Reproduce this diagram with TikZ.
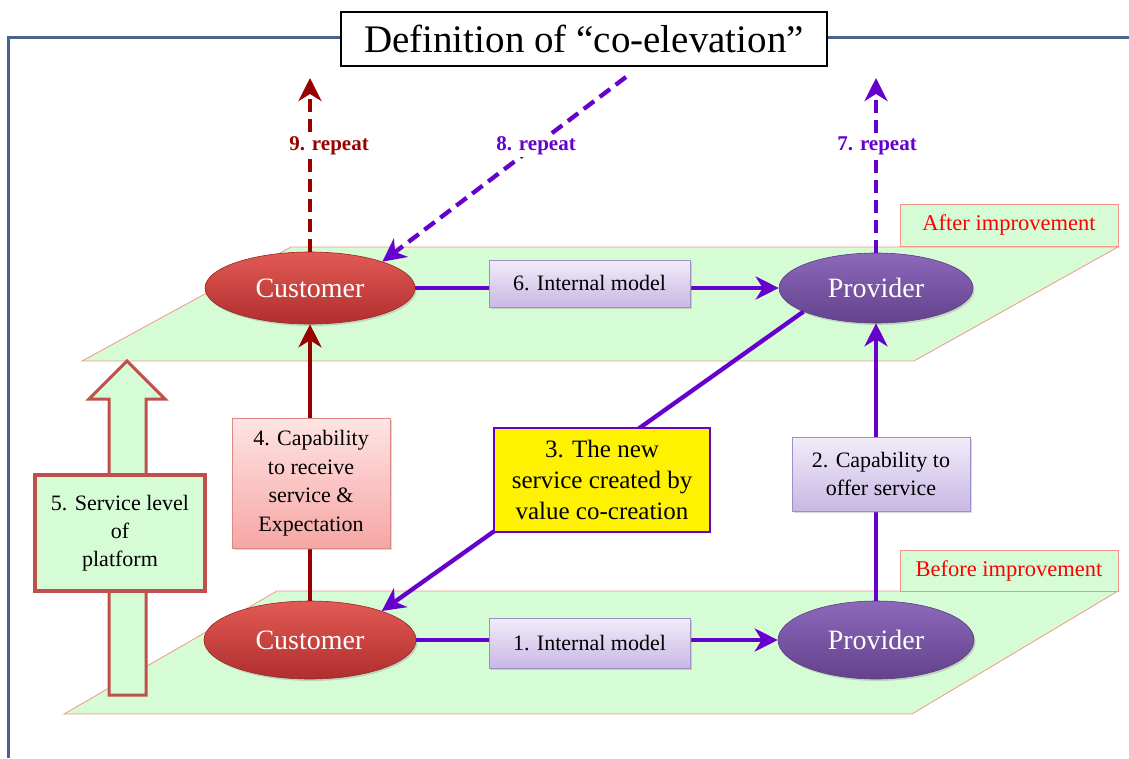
\documentclass[tikz,border=0pt]{standalone}
\usepackage{fontspec}
\setmainfont{Liberation Serif}
\usetikzlibrary{arrows.meta,shapes.geometric,shadows,calc}

\definecolor{frameblue}{RGB}{72,100,140}
\definecolor{vio}{RGB}{102,0,204}
\definecolor{darkred}{RGB}{153,0,0}
\definecolor{planegreen}{RGB}{214,252,214}
\definecolor{planeedge}{RGB}{242,150,140}
\definecolor{custtop}{RGB}{226,90,84}
\definecolor{custbot}{RGB}{176,46,46}
\definecolor{custedge}{RGB}{150,40,40}
\definecolor{provtop}{RGB}{140,104,186}
\definecolor{provbot}{RGB}{100,66,140}
\definecolor{provedge}{RGB}{90,60,130}
\definecolor{lavtop}{RGB}{242,236,250}
\definecolor{lavbot}{RGB}{200,184,228}
\definecolor{lavedge}{RGB}{160,142,198}
\definecolor{pinktop}{RGB}{254,228,228}
\definecolor{pinkbot}{RGB}{246,166,164}
\definecolor{pinkedge}{RGB}{222,136,134}
\definecolor{platred}{RGB}{192,80,77}

\tikzset{
  plane/.style={fill=planegreen, draw=planeedge, line width=0.8pt},
  stagetag/.style={plane, minimum width=218pt, minimum height=42pt, inner sep=0pt,
    text=red, font=\fontsize{22.5}{26}\selectfont},
  softshadow/.style={drop shadow={shadow xshift=1.5pt, shadow yshift=-2pt, opacity=0.3}},
  custnode/.style={ellipse, draw=custedge, line width=0.6pt, top color=custtop,
    bottom color=custbot, text=white, inner sep=0pt, softshadow,
    font=\fontsize{28}{32}\selectfont},
  provnode/.style={ellipse, draw=provedge, line width=0.6pt, top color=provtop,
    bottom color=provbot, text=white, inner sep=0pt, softshadow,
    font=\fontsize{28}{32}\selectfont},
  lavbox/.style={rectangle, draw=lavedge, line width=1pt, top color=lavtop,
    bottom color=lavbot, align=center, inner sep=0pt, softshadow,
    font=\fontsize{22}{28}\selectfont},
  pinkbox/.style={rectangle, draw=pinkedge, line width=1pt, top color=pinktop,
    bottom color=pinkbot, align=center, inner sep=0pt, softshadow,
    font=\fontsize{22}{28.5}\selectfont},
  yellowbox/.style={rectangle, draw=vio, line width=2.2pt, fill=yellow, align=center,
    inner sep=0pt, font=\fontsize{25}{31}\selectfont},
  platbox/.style={rectangle, draw=platred, line width=3.2pt, fill=planegreen,
    align=center, inner sep=0pt, softshadow, font=\fontsize{22}{28}\selectfont},
  headtip/.style={-{Stealth[length=23pt,width=23pt,inset=7pt]}},
  vioarrow/.style={draw=vio, line width=4.3pt, headtip},
  redarrow/.style={draw=darkred, line width=4.3pt, headtip},
  dashvio/.style={draw=vio, line width=4.3pt, dash pattern=on 13pt off 7pt, headtip},
  dashred/.style={draw=darkred, line width=4.3pt, dash pattern=on 13pt off 7pt, headtip},
  replabel/.style={fill=white, inner sep=2pt, font=\bfseries\fontsize{21}{24}\selectfont},
}

\begin{document}
\begin{tikzpicture}[x=1pt,y=-1pt]
\useasboundingbox (0,0) rectangle (1129,758);

% outer frame
\draw[frameblue, line width=3pt] (1129,37) -- (8,37) -- (8,758);

% the two planes
\path[plane] (82,361) -- (291,247) -- (1118,247) -- (914,361) -- cycle;
\path[plane] (64,714) -- (277,591) -- (1118,591) -- (912,714) -- cycle;
\node[stagetag] (after) at (1009,225) {After improvement};
\node[stagetag, minimum height=41pt] (before) at (1009,570.5) {Before improvement};

% platform arrow
\draw[draw=platred, fill=planegreen, line width=3pt, line join=miter]
  (109,695) -- (109,399) -- (89,399) -- (127,361) -- (165,399) -- (146,399) -- (146,695) -- cycle;

% actors
\node[custnode, minimum width=210pt, minimum height=72pt] (CustT) at (310,288) {Customer};
\node[provnode, minimum width=194pt, minimum height=70pt] (ProvT) at (876,288) {Provider};
\node[custnode, minimum width=212pt, minimum height=78pt] (CustB) at (310,640) {Customer};
\node[provnode, minimum width=196pt, minimum height=78pt] (ProvB) at (876,640) {Provider};

% connectors
\draw[vioarrow] (CustB) -- (ProvB);
\draw[vioarrow] (CustT) -- (ProvT);
\draw[vioarrow] (ProvB) -- (ProvT);
\draw[redarrow] (CustB) -- (CustT);
\draw[vioarrow] (ProvT.198) -- (CustB.22);

% repeat arrows
\coordinate (r9) at (310,78);
\coordinate (r7) at (876,78);
\coordinate (r8) at (626,77);
\draw[dashred] (CustT) -- (r9);
\draw[dashvio] (ProvT) -- (r7);
\draw[dashvio] (r8) -- (CustT.20);
\node[replabel, text=darkred] (l9) at (329,146) {9. repeat};
\node[replabel, text=vio] (l7) at (877,146) {7. repeat};
\node[replabel, text=vio] (l8) at (536,146) {8. repeat};

% step boxes
\node[lavbox, minimum width=201pt, minimum height=47pt] (b6) at (589.5,283.5) {6. Internal model};
\node[lavbox, minimum width=201pt, minimum height=50pt] (b1) at (589.5,643) {1. Internal model};
\node[lavbox, minimum width=178pt, minimum height=74pt] (b2) at (881,474) {2. Capability to\\offer service};
\node[pinkbox, minimum width=158pt, minimum height=130pt] (b4) at (311,483) {4. Capability\\to receive\\service \&\\Expectation};
\node[yellowbox, minimum width=216pt, minimum height=104pt] (b3) at (602,480) {3. The new\\service created by\\value co-creation};
\node[platbox, minimum width=170pt, minimum height=116pt] (b5) at (120,533) {5. Service level\\of\\platform};

% title
\node[draw=black, line width=2.5pt, fill=white, minimum width=486pt, minimum height=54pt,
  inner sep=0pt, font=\fontsize{39}{43}\selectfont] (title) at (584,39)
  {Definition of ``co-elevation''};
\end{tikzpicture}
\end{document}
